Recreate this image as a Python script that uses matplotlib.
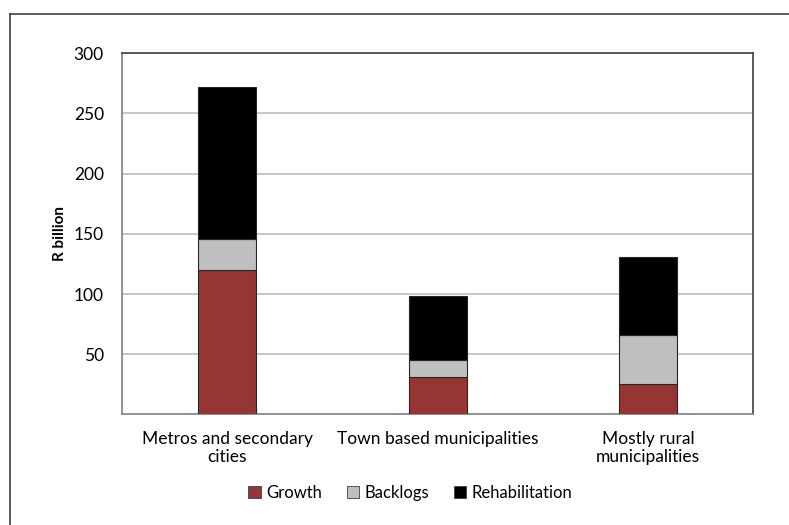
import matplotlib
matplotlib.use("Agg")
import matplotlib.pyplot as plt
from matplotlib.patches import Patch
from matplotlib.lines import Line2D
import numpy as np

plt.rcParams['font.family'] = ['Lato', 'DejaVu Sans']

categories = ["Metros and secondary\ncities", "Town based municipalities", "Mostly rural\nmunicipalities"]
growth = [120, 31, 25]
backlogs = [26, 14, 41]
rehabilitation = [126, 53, 65]
series_names = ["Growth", "Backlogs", "Rehabilitation"]
colors = ["#963634", "#bfbfbf", "#000000"]
yticks = [50, 100, 150, 200, 250, 300]

fig = plt.figure(figsize=(7.89, 5.25), dpi=100)
ax = fig.add_axes([0.1546, 0.2105, 0.8002, 0.688])

x = np.arange(len(categories))
w = 0.275
bottom = np.zeros(len(categories))
for vals, col in zip([growth, backlogs, rehabilitation], colors):
    ax.bar(x, vals, w, bottom=bottom, color=col, edgecolor="#262626", linewidth=0.8, zorder=3)
    bottom += np.array(vals)

ax.set_xlim(-0.5, 2.5)
ax.set_ylim(0, 300)
ax.set_yticks(yticks)
ax.set_yticklabels([str(t) for t in yticks], fontsize=12.5)
ax.set_xticks(x)
ax.set_xticklabels(categories, fontsize=12.5, linespacing=1.15)
ax.tick_params(axis='y', length=0, pad=13)
ax.tick_params(axis='x', length=0, pad=12)
ax.yaxis.grid(True, color="#bfbfbf", linewidth=1.2, zorder=0)
for s in ax.spines.values():
    s.set_color("#808080")
    s.set_linewidth(1.2)
ax.spines['right'].set_color("#404040")
ax.spines['top'].set_color("#404040")
ax.set_ylabel("R billion", fontsize=11, fontweight="bold", labelpad=5)

handles = [Patch(facecolor=c, edgecolor="#404040", linewidth=0.6) for c in colors]
fig.legend(handles, series_names, loc="center", bbox_to_anchor=(0.52, 0.061), ncol=3,
           frameon=False, fontsize=12, handlelength=0.75, handleheight=0.75,
           handletextpad=0.3, columnspacing=1.5)

# outer frame around the chart
fig.add_artist(Line2D([10/789, 10/789], [0, 1 - 14/525], transform=fig.transFigure,
                      color="#404040", linewidth=1.2))
fig.add_artist(Line2D([10/789, 1], [1 - 14/525, 1 - 14/525], transform=fig.transFigure,
                      color="#404040", linewidth=1.2))

fig.savefig("out.png", dpi=100)
